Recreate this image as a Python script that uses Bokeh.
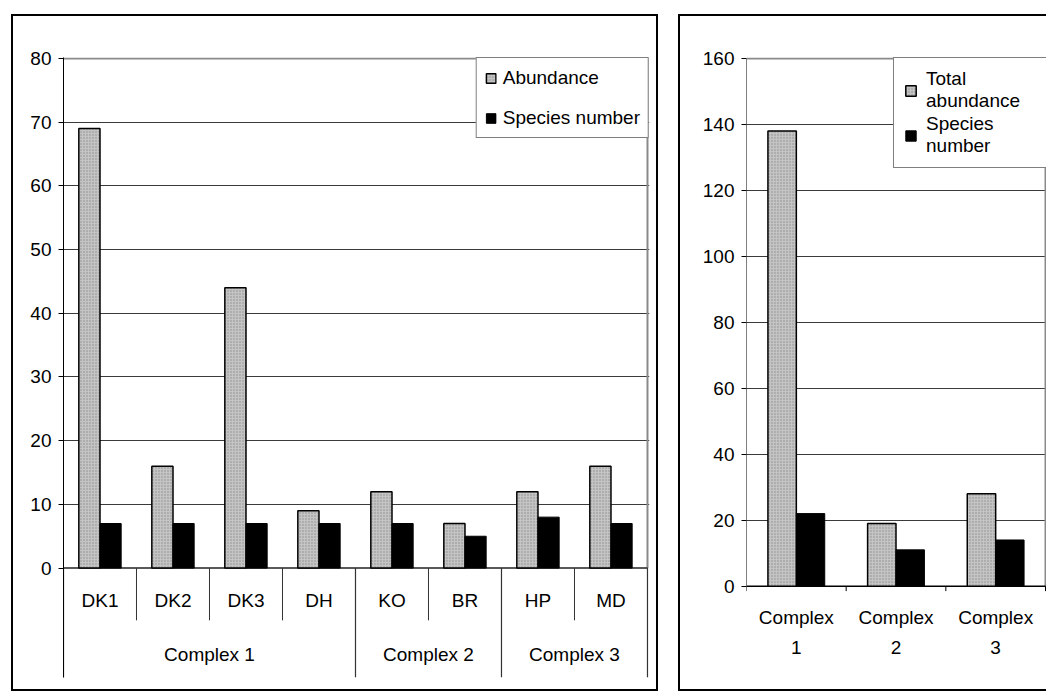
from bokeh.plotting import figure
from bokeh.models import FixedTicker, Range1d, Legend, LegendItem, ColumnDataSource
from bokeh.layouts import row
from bokeh.transform import dodge
from bokeh.core.properties import value
from bokeh.embed import file_html
from bokeh.resources import INLINE

# ---------------- data ----------------
sites = ["DK1", "DK2", "DK3", "DH", "KO", "BR", "HP", "MD"]
site_complex = ["Complex 1", "Complex 1", "Complex 1", "Complex 1",
                "Complex 2", "Complex 2", "Complex 3", "Complex 3"]
abundance = [69, 16, 44, 9, 12, 7, 12, 16]
species_number = [7, 7, 7, 7, 7, 5, 8, 7]

complexes = ["Complex 1", "Complex 2", "Complex 3"]
complex_tick_labels = ["Complex\n1", "Complex\n2", "Complex\n3"]
total_abundance = [138, 19, 28]
complex_species = [22, 11, 14]

left_ticks = [0, 10, 20, 30, 40, 50, 60, 70, 80]
right_ticks = [0, 20, 40, 60, 80, 100, 120, 140, 160]

# ---------------- styles ----------------
FONT = "Liberation Sans"
FS = "19px"
GREY = "#c4c4c4"
HATCH = "#8c8c8c"
GRID = "#3a3a3a"
BORDER = "#8a8a8a"


def bar_style(kind):
    if kind == "grey":
        return dict(fill_color=GREY, line_color="black", line_width=1.5,
                    hatch_pattern="dot", hatch_color=HATCH, hatch_scale=3,
                    hatch_weight=1)
    return dict(fill_color="black", line_color="black", line_width=1)


def style_yaxis(ax, ticks):
    ax.ticker = FixedTicker(ticks=ticks)
    ax.major_tick_out = 5
    ax.major_tick_in = 0
    ax.minor_tick_line_color = None
    ax.major_label_standoff = 7
    ax.major_label_text_font = FONT
    ax.major_label_text_font_size = FS
    ax.major_label_text_color = "black"


# ---------------- left chart ----------------
n = len(sites)
pos = [i + 0.5 for i in range(n)]
src1 = ColumnDataSource(dict(pos=pos, ab=abundance, sp=species_number))
BOTTOM1 = -17.17

p1 = figure(width=647, height=677, x_range=Range1d(0, n * 582 / 580),
            y_range=Range1d(BOTTOM1, 80.14), output_backend="svg",
            toolbar_location=None, x_axis_location=None,
            min_border_left=50, min_border_right=11,
            min_border_top=41, min_border_bottom=16)
p1.outline_line_color = None
p1.styles = {"border": "2px solid black", "box-sizing": "border-box"}
p1.xgrid.visible = False
p1.ygrid.ticker = FixedTicker(ticks=left_ticks[1:-1])
p1.ygrid.grid_line_color = GRID
style_yaxis(p1.yaxis[0], left_ticks)
p1.yaxis[0].axis_line_color = "black"

top1 = left_ticks[-1]
p1.segment(x0=[0, n], y0=[top1, 0], x1=[n, n], y1=[top1, top1],
           line_color=BORDER, line_width=2)
p1.segment(x0=[0], y0=[0], x1=[n], y1=[0], line_color="#222222", line_width=1.5)

r_ab = p1.vbar(x=dodge("pos", -0.145, range=p1.x_range), top="ab", width=0.29,
               bottom=0, source=src1, **bar_style("grey"))
r_sp = p1.vbar(x=dodge("pos", 0.145, range=p1.x_range), top="sp", width=0.29,
               bottom=0, source=src1, **bar_style("black"))

SITE_Y = -5.1
GROUP_Y = -13.6
SITE_SEP_BOTTOM = -8.2
p1.text(x=pos, y=[SITE_Y] * n, text=sites, text_font=value(FONT),
        text_font_size=FS, text_align="center", text_baseline="middle",
        text_color="black")

groups = []
for i, c in enumerate(site_complex):
    if not groups or groups[-1][0] != c:
        groups.append([c, i, i + 1])
    else:
        groups[-1][2] = i + 1
p1.text(x=[(g[1] + g[2]) / 2 for g in groups], y=[GROUP_Y] * len(groups),
        text=[g[0] for g in groups], text_font=value(FONT),
        text_font_size=FS, text_align="center", text_baseline="middle",
        text_color="black")
group_edges = sorted(set([g[1] for g in groups] + [g[2] for g in groups]))
site_edges = [i for i in range(1, n) if i not in group_edges]
p1.segment(x0=site_edges, y0=[0] * len(site_edges), x1=site_edges,
           y1=[SITE_SEP_BOTTOM] * len(site_edges), line_color="#333333", line_width=1)
p1.segment(x0=group_edges, y0=[0] * len(group_edges), x1=group_edges,
           y1=[BOTTOM1] * len(group_edges), line_color="#333333", line_width=1.2)

leg1 = Legend(items=[LegendItem(label="Abundance", renderers=[r_ab]),
                     LegendItem(label="Species number", renderers=[r_sp])],
              location="top_right", margin=0, padding=8, spacing=17,
              label_text_font=FONT, label_text_font_size=FS,
              label_text_color="black", label_standoff=6,
              glyph_width=12, glyph_height=12, label_height=23,
              border_line_color="black", border_line_width=1,
              background_fill_color="white", background_fill_alpha=1)
p1.add_layout(leg1)
p1.margin = (14, 0, 0, 11)

# ---------------- right chart ----------------
m = len(complexes)
cpos = [i + 0.5 for i in range(m)]
src2 = ColumnDataSource(dict(pos=cpos, ab=total_abundance, sp=complex_species))
BOTTOM2 = -27.7

p2 = figure(width=368, height=677, x_range=Range1d(0, 3.02),
            y_range=Range1d(BOTTOM2, 160.3), output_backend="svg",
            toolbar_location=None, x_axis_location=None,
            min_border_left=66, min_border_right=1,
            min_border_top=41, min_border_bottom=16)
p2.outline_line_color = None
p2.styles = {"border-top": "2px solid black", "border-left": "2px solid black",
             "border-bottom": "2px solid black", "box-sizing": "border-box"}
p2.xgrid.visible = False
p2.ygrid.ticker = FixedTicker(ticks=right_ticks[1:-1])
p2.ygrid.grid_line_color = GRID
style_yaxis(p2.yaxis[0], right_ticks)
p2.yaxis[0].axis_line_color = None

top2 = right_ticks[-1]
p2.segment(x0=[0], y0=[0], x1=[0], y1=[top2], line_color="black", line_width=1)
p2.segment(x0=[0, m], y0=[top2, 0], x1=[m, m], y1=[top2, top2],
           line_color=BORDER, line_width=2)
p2.segment(x0=[0], y0=[0], x1=[m], y1=[0], line_color="black", line_width=1.5)
edges2 = list(range(m + 1))
p2.segment(x0=edges2, y0=[0] * len(edges2), x1=edges2, y1=[-1.5] * len(edges2),
           line_color="black", line_width=1)

r2_ab = p2.vbar(x=dodge("pos", -0.1425, range=p2.x_range), top="ab", width=0.285,
                bottom=0, source=src2, **bar_style("grey"))
r2_sp = p2.vbar(x=dodge("pos", 0.1425, range=p2.x_range), top="sp", width=0.285,
                bottom=0, source=src2, **bar_style("black"))

p2.text(x=cpos, y=[-14.0] * m, text=complex_tick_labels, text_font=value(FONT),
        text_font_size=FS, text_align="center", text_baseline="middle",
        text_line_height=1.42, text_color="black")

leg2 = Legend(items=[LegendItem(label="Total\nabundance", renderers=[r2_ab]),
                     LegendItem(label="Species\nnumber", renderers=[r2_sp])],
              location="top_right", margin=0, padding=10, spacing=1,
              label_text_font=FONT, label_text_font_size=FS,
              label_text_color="black", label_standoff=9,
              label_text_line_height=1.55, label_width=110,
              glyph_width=13, glyph_height=13,
              border_line_color="black", border_line_width=1,
              background_fill_color="white", background_fill_alpha=1)
p2.add_layout(leg2)
p2.margin = (14, 0, 0, 20)

layout = row(p1, p2)
open("out.html", "w").write(file_html(layout, INLINE))
